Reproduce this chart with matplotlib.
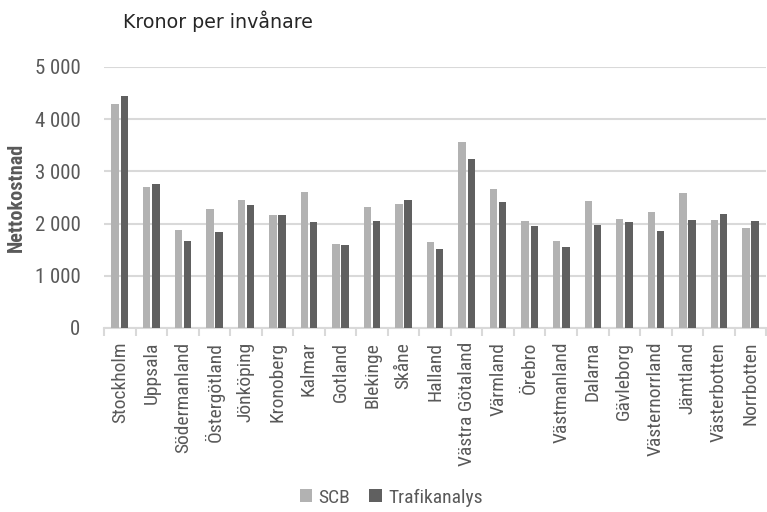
import matplotlib
matplotlib.use("Agg")
import matplotlib.pyplot as plt
import numpy as np
from matplotlib.ticker import FuncFormatter, FixedLocator

categories = ["Stockholm", "Uppsala", "Södermanland", "Östergötland", "Jönköping",
              "Kronoberg", "Kalmar", "Gotland", "Blekinge", "Skåne", "Halland",
              "Västra Götaland", "Värmland", "Örebro", "Västmanland", "Dalarna",
              "Gävleborg", "Västernorrland", "Jämtland", "Västerbotten", "Norrbotten"]
scb = [4280, 2700, 1880, 2270, 2460, 2160, 2610, 1600, 2320, 2380, 1650,
       3570, 2660, 2040, 1670, 2430, 2090, 2220, 2590, 2060, 1920]
trafikanalys = [4440, 2760, 1660, 1840, 2360, 2160, 2020, 1580, 2050, 2460, 1510,
                3240, 2420, 1960, 1560, 1970, 2020, 1850, 2060, 2180, 2040]
yticks = [0, 1000, 2000, 3000, 4000, 5000]

font_c = ["Roboto Condensed", "Archivo Narrow", "DejaVu Sans"]
text_col = "#595959"

fig = plt.figure(figsize=(7.67, 5.12), dpi=100)
ax = fig.add_axes([0.1356, 0.3594, 0.8634, 0.51])

x = np.arange(len(categories))
w = 0.235
off = 0.145
ax.bar(x - off, scb, width=w, color="#b2b2b2", label="SCB", zorder=3)
ax.bar(x + off, trafikanalys, width=w, color="#606060", label="Trafikanalys", zorder=3)

ax.set_xlim(-0.5, len(categories) - 0.5)
ax.set_ylim(0, 5000)
ax.yaxis.set_major_locator(FixedLocator(yticks))
ax.yaxis.set_major_formatter(FuncFormatter(lambda v, p: f"{int(v):,}".replace(",", " ")))
ax.grid(axis="y", color="#d9d9d9", linewidth=1.5, zorder=0)
ax.set_axisbelow(True)

for s in ["top", "right", "left"]:
    ax.spines[s].set_visible(False)
ax.spines["bottom"].set_color("#d9d9d9")
ax.spines["bottom"].set_linewidth(1.5)

ax.tick_params(axis="y", length=0, labelsize=15, labelcolor=text_col, pad=17)
ax.set_xticks(x)
ax.set_xticklabels(categories, rotation=90, fontsize=14, color=text_col)
ax.tick_params(axis="x", length=0, pad=10)
for lab in ax.get_xticklabels() + ax.get_yticklabels():
    lab.set_family(font_c)

ax.set_xticks(np.arange(-0.5, len(categories) + 0.5, 1), minor=True)
ax.tick_params(axis="x", which="minor", length=6, color="#d9d9d9", width=1.5)

ax.set_ylabel("Nettokostnad", fontsize=14.5, fontweight="bold", color=text_col,
              family=font_c, labelpad=6)

fig.text(0.16, 0.958, "Kronor per invånare", fontsize=13.7, color="#262626",
         ha="left", va="center")

leg = fig.legend(loc="center", bbox_to_anchor=(0.51, 0.028), ncol=2, frameon=False,
                 handlelength=0.65, handleheight=0.65, handletextpad=0.3,
                 columnspacing=1.0, prop={"family": font_c, "size": 14})
for t in leg.get_texts():
    t.set_color(text_col)

fig.savefig("out.png", dpi=100)
